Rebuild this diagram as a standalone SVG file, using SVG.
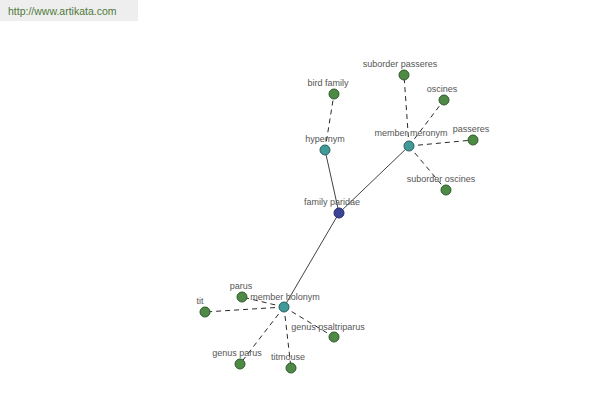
<svg xmlns="http://www.w3.org/2000/svg" width="600" height="400" viewBox="0 0 600 400">
<style>
.lbl{font-family:"Liberation Sans",Arial,sans-serif;font-size:9px;fill:#555;text-anchor:middle}
.leaf{fill:#4e8a46;stroke:#2f5a2a;stroke-width:1}
.mid{fill:#3f9a98;stroke:#2a5f60;stroke-width:1}
.root{fill:#3b4596;stroke:#242a66;stroke-width:1}
.solid{stroke:#111;stroke-width:0.8;fill:none}
.dash{stroke:#111;stroke-width:0.9;stroke-dasharray:5,4;fill:none}
</style>
<rect width="600" height="400" fill="#fff"/>
<g id="header">
<rect x="0" y="0" width="138" height="21" fill="#eeeeee"/>
<text x="8" y="15" font-family="Liberation Sans,Arial,sans-serif" font-size="10.5" fill="#4f7a3a">http://www.artikata.com</text>
</g>
<g id="connectors">
<line class="solid" x1="339" y1="213" x2="325" y2="150"/>
<line class="solid" x1="339" y1="213" x2="409" y2="146"/>
<line class="solid" x1="339" y1="213" x2="284" y2="307"/>
<line class="dash" x1="325" y1="150" x2="334" y2="94"/>
<line class="dash" x1="409" y1="146" x2="404" y2="75"/>
<line class="dash" x1="409" y1="146" x2="444" y2="100"/>
<line class="dash" x1="409" y1="146" x2="473" y2="140"/>
<line class="dash" x1="409" y1="146" x2="446" y2="190"/>
<line class="dash" x1="284" y1="307" x2="242" y2="297"/>
<line class="dash" x1="284" y1="307" x2="205" y2="312"/>
<line class="dash" x1="284" y1="307" x2="334" y2="337"/>
<line class="dash" x1="284" y1="307" x2="240" y2="364"/>
<line class="dash" x1="284" y1="307" x2="291" y2="368"/>
</g>
<g id="family-paridae"><circle class="root" cx="339" cy="213" r="5"/><text class="lbl" x="332" y="205">family paridae</text></g>
<g id="hypernym"><circle class="mid" cx="325" cy="150" r="5"/><text class="lbl" x="325" y="142">hypernym</text></g>
<g id="member-meronym"><circle class="mid" cx="409" cy="146" r="5"/><text class="lbl" x="411" y="136">member meronym</text></g>
<g id="member-holonym"><circle class="mid" cx="284" cy="307" r="5"/><text class="lbl" x="285" y="300">member holonym</text></g>
<g id="bird-family"><circle class="leaf" cx="334" cy="94" r="5"/><text class="lbl" x="328" y="86">bird family</text></g>
<g id="suborder-passeres"><circle class="leaf" cx="404" cy="75" r="5"/><text class="lbl" x="400" y="67">suborder passeres</text></g>
<g id="oscines"><circle class="leaf" cx="444" cy="100" r="5"/><text class="lbl" x="442" y="92">oscines</text></g>
<g id="passeres"><circle class="leaf" cx="473" cy="140" r="5"/><text class="lbl" x="471" y="132">passeres</text></g>
<g id="suborder-oscines"><circle class="leaf" cx="446" cy="190" r="5"/><text class="lbl" x="441" y="182">suborder oscines</text></g>
<g id="parus"><circle class="leaf" cx="242" cy="297" r="5"/><text class="lbl" x="241" y="289">parus</text></g>
<g id="tit"><circle class="leaf" cx="205" cy="312" r="5"/><text class="lbl" x="200" y="304">tit</text></g>
<g id="genus-psaltriparus"><circle class="leaf" cx="334" cy="337" r="5"/><text class="lbl" x="328" y="330">genus psaltriparus</text></g>
<g id="genus-parus"><circle class="leaf" cx="240" cy="364" r="5"/><text class="lbl" x="237" y="356">genus parus</text></g>
<g id="titmouse"><circle class="leaf" cx="291" cy="368" r="5"/><text class="lbl" x="288" y="360">titmouse</text></g>
</svg>
